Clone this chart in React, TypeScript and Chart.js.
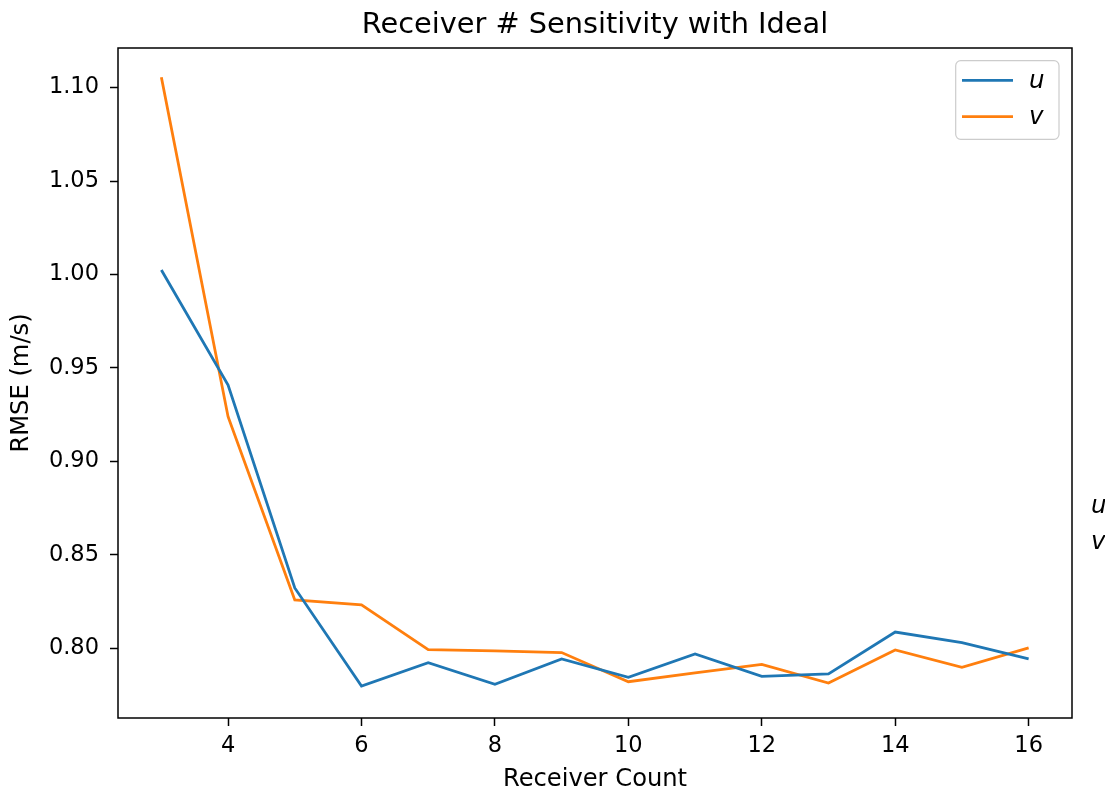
import React, { useEffect, useRef } from "react";
import { Chart, registerables } from "chart.js";

Chart.register(...registerables);

const receiverCounts = [3, 4, 5, 6, 7, 8, 9, 10, 11, 12, 13, 14, 15, 16];
const uRmse = [1.0024, 0.9409, 0.8323, 0.7798, 0.7923, 0.7807, 0.7943, 0.7845, 0.797, 0.785, 0.7863, 0.8087, 0.803, 0.7943];
const vRmse = [1.1056, 0.9239, 0.8259, 0.8232, 0.7993, 0.7986, 0.7977, 0.7821, 0.7869, 0.7914, 0.7814, 0.7991, 0.7898, 0.8002];
const xTicks = [4, 6, 8, 10, 12, 14, 16];
const yTicks = [0.8, 0.85, 0.9, 0.95, 1.0, 1.05, 1.1];
const seriesNames = ["u", "v"];
const seriesColors = ["#1f77b4", "#ff7f0e"];
const titleText = "Receiver # Sensitivity with Ideal";
const xLabel = "Receiver Count";
const yLabel = "RMSE (m/s)";

const FONT = "'DejaVu Sans', sans-serif";

const decorPlugin = {
  id: "decor",
  afterDraw(chart: any) {
    const ctx = chart.ctx as CanvasRenderingContext2D;
    const a = chart.chartArea;
    ctx.save();
    // spines
    ctx.strokeStyle = "#000";
    ctx.lineWidth = 1.5;
    ctx.strokeRect(a.left, a.top, a.right - a.left, a.bottom - a.top);
    // title
    ctx.fillStyle = "#000";
    ctx.font = `28.8px ${FONT}`;
    ctx.textAlign = "center";
    ctx.textBaseline = "alphabetic";
    ctx.fillText(titleText, (a.left + a.right) / 2, 33);
    // x label
    ctx.font = `24.2px ${FONT}`;
    ctx.fillText(xLabel, (a.left + a.right) / 2, 786);
    // y label
    ctx.save();
    ctx.translate(22, (a.top + a.bottom) / 2);
    ctx.rotate(-Math.PI / 2);
    ctx.textBaseline = "middle";
    ctx.fillText(yLabel, 0, 0);
    ctx.restore();
    // legend
    const lx = 955.7, ly = 60.7, lw = 103.3, lh = 78.6;
    ctx.beginPath();
    (ctx as any).roundRect(lx, ly, lw, lh, 5);
    ctx.fillStyle = "rgba(255,255,255,0.8)";
    ctx.fill();
    ctx.strokeStyle = "#cccccc";
    ctx.lineWidth = 1.2;
    ctx.stroke();
    const rows = [80.3, 116.7];
    seriesNames.forEach((n, i) => {
      ctx.beginPath();
      ctx.strokeStyle = seriesColors[i];
      ctx.lineWidth = 2.8;
      ctx.moveTo(962, rows[i]);
      ctx.lineTo(1013, rows[i]);
      ctx.stroke();
      ctx.fillStyle = "#000";
      ctx.font = `italic 24.5px ${FONT}`;
      ctx.textAlign = "left";
      ctx.textBaseline = "middle";
      ctx.fillText(n, 1029, rows[i] + 1);
    });
    // cut-off side text
    ctx.font = `italic 24.5px ${FONT}`;
    ctx.fillText(seriesNames[0], 1091, 507);
    ctx.fillText(seriesNames[1], 1091, 543);
    ctx.restore();
  },
};

export default function App() {
  const ref = useRef<HTMLCanvasElement | null>(null);
  useEffect(() => {
    if (!ref.current) return;
    const chart = new Chart(ref.current, {
      type: "line",
      data: {
        datasets: [
          {
            label: seriesNames[0],
            data: receiverCounts.map((x, i) => ({ x, y: uRmse[i] })),
            borderColor: seriesColors[0],
            borderWidth: 2.8,
            pointRadius: 0,
            fill: false,
            tension: 0,
          },
          {
            label: seriesNames[1],
            data: receiverCounts.map((x, i) => ({ x, y: vRmse[i] })),
            borderColor: seriesColors[1],
            borderWidth: 2.8,
            pointRadius: 0,
            fill: false,
            tension: 0,
          },
        ],
      },
      options: {
        responsive: false,
        animation: false,
        layout: { padding: { top: 48, right: 33, left: 0, bottom: 0 } },
        plugins: { legend: { display: false }, title: { display: false }, tooltip: { enabled: false } },
        scales: {
          x: {
            type: "linear",
            min: 2.35,
            max: 16.65,
            afterBuildTicks: (s: any) => {
              s.ticks = xTicks.map((v) => ({ value: v }));
            },
            afterFit: (s: any) => {
              s.height = 75;
            },
            grid: { drawOnChartArea: false, tickLength: 8, tickColor: "#000", tickWidth: 1.5 },
            border: { display: false },
            ticks: {
              color: "#000",
              font: { family: FONT, size: 22.5 },
              padding: 7,
              maxRotation: 0,
              autoSkip: false,
              callback: (v: any) => String(v),
            },
          },
          y: {
            type: "linear",
            min: 0.7627,
            max: 1.1212,
            afterBuildTicks: (s: any) => {
              s.ticks = yTicks.map((v) => ({ value: v }));
            },
            afterFit: (s: any) => {
              s.width = 118;
            },
            grid: { drawOnChartArea: false, tickLength: 8, tickColor: "#000", tickWidth: 1.5 },
            border: { display: false },
            ticks: {
              color: "#000",
              font: { family: FONT, size: 22.5 },
              padding: 11,
              autoSkip: false,
              callback: (v: any) => Number(v).toFixed(2),
            },
          },
        },
      },
      plugins: [decorPlugin],
    } as any);
    return () => chart.destroy();
  }, []);
  return (
    <div style={{ position: "fixed", left: 0, top: 0, width: 1105, height: 793, background: "#fff" }}>
      <canvas ref={ref} width={1105} height={793} />
    </div>
  );
}
